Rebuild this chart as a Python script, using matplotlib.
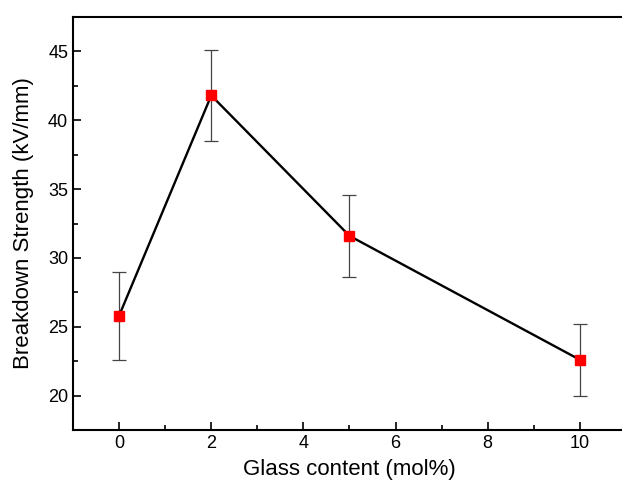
import matplotlib
matplotlib.use('Agg')
from matplotlib import pyplot as plt
from matplotlib.ticker import MultipleLocator

glass_content = [0, 2, 5, 10]
strength = [25.8, 41.8, 31.6, 22.6]
strength_err = [3.2, 3.3, 3.0, 2.6]

plt.rcParams['font.family'] = ['Liberation Sans', 'DejaVu Sans']

fig = plt.figure(figsize=(6.22, 4.82), dpi=100)
ax = fig.add_axes([73 / 622, 52 / 482, (626 - 73) / 622, (430 - 17) / 482])

ax.errorbar(glass_content, strength, yerr=strength_err, fmt='none', ecolor='#444444',
            elinewidth=0.9, capsize=5, capthick=0.9, zorder=2)
ax.plot(glass_content, strength, color='black', linewidth=1.7, marker='s', markersize=6.5,
        markerfacecolor='red', markeredgecolor='red', zorder=3)

ax.set_xlim(-1, 11)
ax.set_ylim(17.5, 47.5)
ax.xaxis.set_major_locator(MultipleLocator(2))
ax.xaxis.set_minor_locator(MultipleLocator(1))
ax.yaxis.set_major_locator(MultipleLocator(5))
ax.yaxis.set_minor_locator(MultipleLocator(2.5))
ax.tick_params(which='both', direction='in', top=False, right=False, labelsize=13, width=1.2)
ax.tick_params(which='major', length=6)
ax.tick_params(which='minor', length=3.5)
for sp in ax.spines.values():
    sp.set_linewidth(1.5)

ax.set_xlabel('Glass content (mol%)', fontsize=16, labelpad=5)
ax.set_ylabel('Breakdown Strength (kV/mm)', fontsize=16, labelpad=10)

fig.savefig('out.png', dpi=100)
